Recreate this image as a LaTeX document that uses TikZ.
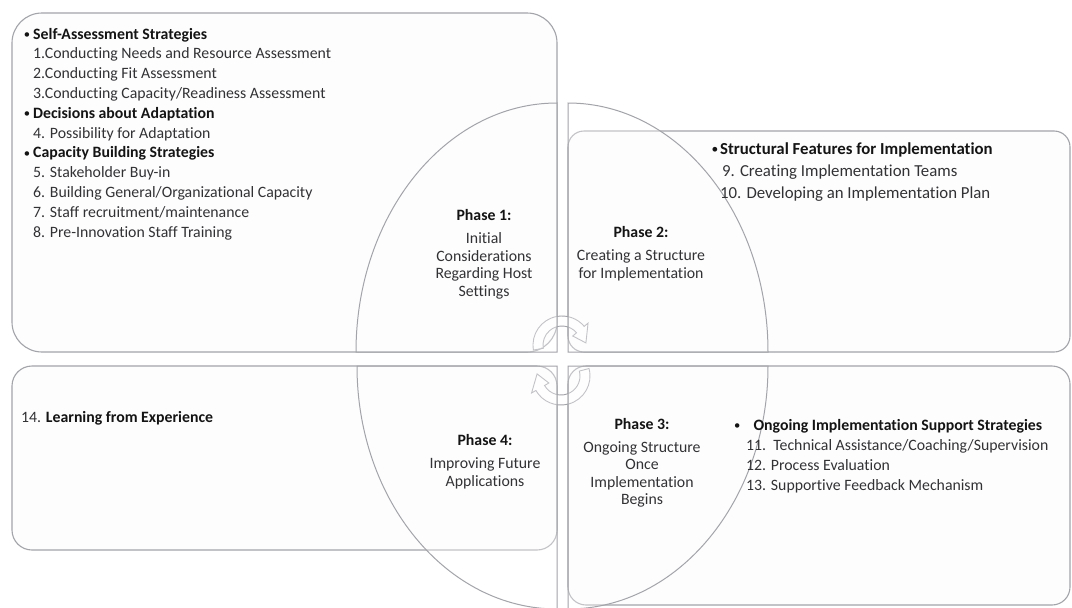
\documentclass[tikz,border=0pt]{standalone}
\usepackage{fontspec}
\setmainfont{Carlito}[Ligatures=NoCommon]
\definecolor{edgegray}{RGB}{163,164,169}
\definecolor{panelfill}{RGB}{253,253,254}
\definecolor{headcolor}{RGB}{20,20,20}
\definecolor{itemcolor}{RGB}{50,50,53}
% small list bullet
\newcommand{\listdot}{\textcolor{headcolor}{\raisebox{0.6pt}{\scalebox{0.8}{\textbullet}}}}
\begin{document}
\begin{tikzpicture}[x=1pt,y=-1pt,
  panel/.style={draw=edgegray, line width=1.1pt, fill=panelfill, rounded corners=#1},
  wedge/.style={draw=edgegray, line width=1pt, fill=white, fill opacity=0.35},
  turnarrow/.style={draw=edgegray, line width=0.9pt, fill=white, fill opacity=0.55},
  listtext/.style={inner sep=0pt, anchor=base west, text=itemcolor,
    font=\fontsize{15.8}{#1}\selectfont},
  phasetext/.style={inner sep=0pt, anchor=base, text=itemcolor,
    font=\fontsize{15.8}{17.5}\selectfont}]
\useasboundingbox (0,0) rectangle (1072,608);
\clip (0,0) rectangle (1072,608);
\fill[white] (0,0) rectangle (1072,608);

% four panels of the matrix
\draw[panel=30pt] (12,13) rectangle (557,352);
\draw[panel=16pt] (568,131) rectangle (1070,352);
\draw[panel=20pt] (12,366) rectangle (557,550);
\draw[panel=18pt] (568,366) rectangle (1070,605);

% two circular arrows in the middle
\begin{scope}[shift={(562,345)}, yscale=-1]
  \draw[turnarrow] (190:29) arc[start angle=190, end angle=40, radius=29]
    -- (40:34) -- (5:24) -- (40:14) -- (40:19)
    arc[start angle=40, end angle=190, radius=19] -- cycle;
\end{scope}
\begin{scope}[shift={(561,376)}, yscale=-1]
  \draw[turnarrow] (15:29) arc[start angle=15, end angle=-150, radius=29]
    -- (-150:34) -- (-185:24) -- (-150:14) -- (-150:19)
    arc[start angle=-150, end angle=15, radius=19] -- cycle;
\end{scope}

% four quarter-ellipse wedges forming the cycle
\draw[wedge] (557,352) -- (356,352)
  arc[start angle=180, end angle=270, x radius=201, y radius=249] -- cycle;
\draw[wedge] (568,352) -- (568,103)
  arc[start angle=270, end angle=360, x radius=200, y radius=249] -- cycle;
\draw[wedge] (568,366) -- (768,366)
  arc[start angle=0, end angle=90, x radius=200, y radius=243] -- cycle;
\draw[wedge] (557,366) -- (557,609)
  arc[start angle=90, end angle=180, x radius=200, y radius=243] -- cycle;

% phase labels
\node[phasetext] (phase1) at (484,220) {\begin{tabular}[t]{@{}c@{}}
  \textcolor{headcolor}{\bfseries Phase 1:}\\[6pt]
  Initial\\ Considerations\\ Regarding Host\\ Settings\end{tabular}};
\node[phasetext] (phase2) at (641,237) {\begin{tabular}[t]{@{}c@{}}
  \textcolor{headcolor}{\bfseries Phase 2:}\\[6pt]
  Creating a Structure\\ for Implementation\end{tabular}};
\node[phasetext] (phase3) at (642,429) {\begin{tabular}[t]{@{}c@{}}
  \textcolor{headcolor}{\bfseries Phase 3:}\\[5.5pt]
  Ongoing Structure\\ Once\\ Implementation\\ Begins\end{tabular}};
\node[phasetext] (phase4) at (485,445) {\begin{tabular}[t]{@{}c@{}}
  \textcolor{headcolor}{\bfseries Phase 4:}\\[6pt]
  Improving Future\\ Applications\end{tabular}};

% strategy lists
\node[listtext=19.8] (list1) at (33,39) {\begin{tabular}[t]{@{}l@{}}
  \llap{\listdot\hspace{3pt}}\textcolor{headcolor}{\bfseries Self-Assessment Strategies}\\
  1.Conducting Needs and Resource Assessment\\
  2.Conducting Fit Assessment\\
  3.Conducting Capacity/Readiness Assessment\\
  \llap{\listdot\hspace{3pt}}\textcolor{headcolor}{\bfseries Decisions about Adaptation}\\
  4. Possibility for Adaptation\\
  \llap{\listdot\hspace{3pt}}\textcolor{headcolor}{\bfseries Capacity Building Strategies}\\
  5. Stakeholder Buy-in\\
  6. Building General/Organizational Capacity\\
  7. Staff recruitment/maintenance\\
  8. Pre-Innovation Staff Training\end{tabular}};

\node[listtext=22, font=\fontsize{16.8}{22}\selectfont] (list2) at (720,154) {\begin{tabular}[t]{@{}l@{}}
  \llap{\listdot\hspace{2pt}}\textcolor{headcolor}{\bfseries Structural Features for Implementation}\\
  \hspace*{2pt}9. Creating Implementation Teams\\
  10. Developing an Implementation Plan\end{tabular}};

\node[listtext=20.3] (list3) at (746,430) {\begin{tabular}[t]{@{}l@{}}
  \hspace*{-12pt}\listdot\hspace{13pt}\textcolor{headcolor}{\bfseries Ongoing Implementation Support Strategies}\\
  11.\ \ Technical Assistance/Coaching/Supervision\\
  12. Process Evaluation\\
  13. Supportive Feedback Mechanism\end{tabular}};

\node[listtext=20] (list4) at (21,422) {14. \textcolor{headcolor}{\bfseries Learning from Experience}};
\end{tikzpicture}
\end{document}
